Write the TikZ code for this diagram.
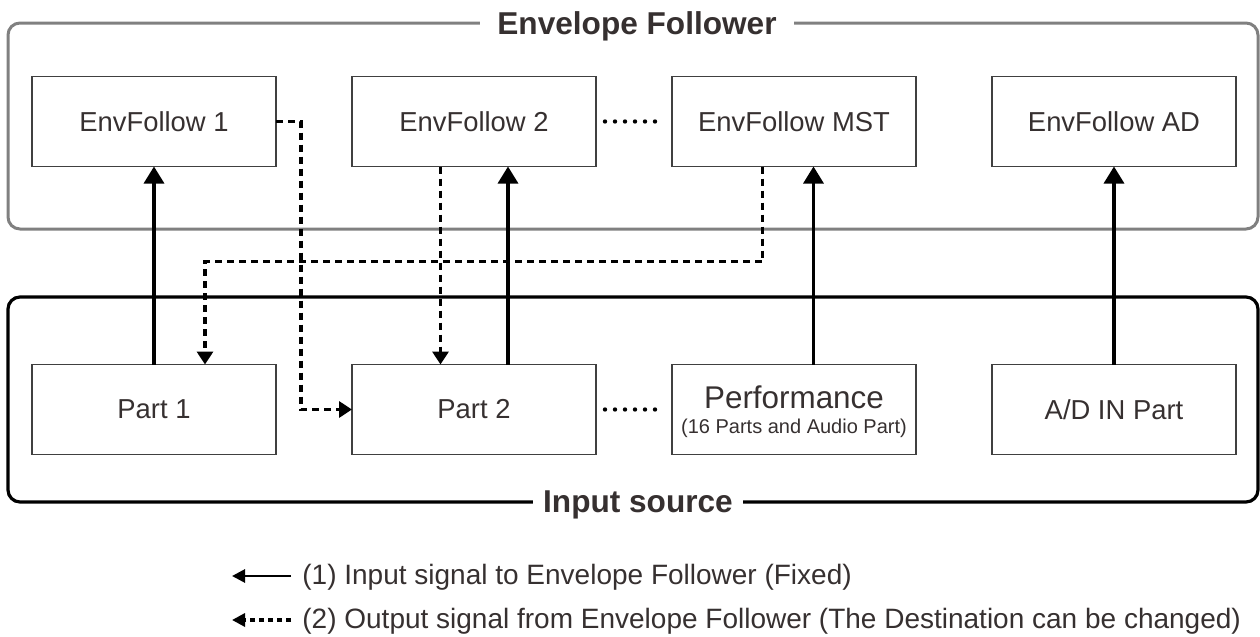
\documentclass[tikz,border=0pt]{standalone}
\usepackage{fontspec}
\setmainfont{Liberation Sans}
\usetikzlibrary{arrows.meta, positioning, calc}
\definecolor{grpgray}{HTML}{808080}
\definecolor{boxline}{HTML}{404040}
\definecolor{txt}{HTML}{363030}

\begin{document}
\begin{tikzpicture}[
  x=0.5pt, y=-0.5pt,
  node distance=99pt and 38pt,
  blk/.style={draw=boxline, line width=0.9pt, outer sep=0pt, align=center,
              minimum width=122pt, minimum height=45pt, text=txt,
              font=\fontsize{13.7}{16}\selectfont},
  grp/.style={draw, rounded corners=6pt, minimum width=625pt, outer sep=0pt},
  ttl/.style={fill=white, text=txt, inner ysep=1pt,
              font=\bfseries\fontsize{15.8}{18}\selectfont},
  inarr/.style={-{Triangle[width=10pt,length=8.5pt]}, line width=1.6pt},
  outarr/.style={-{Triangle[width=8pt,length=6.5pt]}, line width=1.8pt,
                 dash pattern=on 3.5pt off 2.5pt},
  dots/.style={line width=2.2pt, line cap=round, dash pattern=on 0pt off 5pt,
               shorten <=4.5pt, shorten >=4.5pt},
  legin/.style={-{Triangle[width=6.5pt,length=6.5pt]}, line width=1.4pt},
  legout/.style={-{Triangle[width=6.5pt,length=6.5pt]}, line width=1.6pt,
                 dash pattern=on 2.5pt off 2pt},
  leg/.style={anchor=west, inner sep=0pt, text=txt,
              font=\fontsize{14}{16}\selectfont}
]
  \useasboundingbox (0,0) rectangle (1260,637);

  % groups
  \node[grp, draw=grpgray, line width=1.5pt, minimum height=103pt] (envgrp) at (633,126) {};
  \node[grp, line width=1.6pt, minimum height=102.5pt] (srcgrp) at (633,399.5) {};
  \node[ttl, inner xsep=8.5pt] (envttl) at (637,26) {Envelope Follower};
  \node[ttl, inner xsep=5pt] (srcttl) at (638,505) {Input source};

  % envelope followers
  \node[blk] (ef1) at (154,121.5) {EnvFollow 1};
  \node[blk, right=of ef1] (ef2) {EnvFollow 2};
  \node[blk, right=of ef2] (efm) {EnvFollow MST};
  \node[blk, right=of efm] (efad) {EnvFollow AD};

  % input sources
  \node[blk, below=of ef1] (p1) {Part 1};
  \node[blk, below=of ef2] (p2) {Part 2};
  \node[blk, below=of efm, font=\fontsize{15.7}{12.5}\selectfont, text depth=0pt] (perf)
    {Performance\\{\fontsize{10}{12.5}\selectfont (16 Parts and Audio Part)}};
  \node[blk, below=of efad] (pad) {A/D IN Part};

  \draw[dots] (ef2) -- (efm);
  \draw[dots] (p2) -- (perf);

  % (1) fixed inputs
  \draw[inarr] (p1.north) -- (ef1.south);
  \draw[inarr] ([xshift=17pt]p2.north) -- ([xshift=17pt]ef2.south);
  \draw[inarr] ([xshift=9.75pt]perf.north) -- ([xshift=9.75pt]efm.south);
  \draw[inarr] (pad.north) -- (efad.south);

  % (2) outputs
  \draw[outarr] (ef1.east) -- ++(25,0) |- (p2.west);
  \draw[outarr] ([xshift=-16.75pt]ef2.south) -- ([xshift=-16.75pt]p2.north);
  \draw[outarr] ([xshift=-15.75pt]efm.south) -- ++(0,95) -| ([xshift=25.5pt]p1.north);

  % legend
  \coordinate (l1a) at (291,576);
  \coordinate (l1b) at (232,576);
  \coordinate (l2a) at (291,620);
  \coordinate (l2b) at (232,620);
  \draw[legin] (l1a) -- (l1b);
  \draw[legout] (l2a) -- (l2b);
  \node[leg] (l1t) at (302,577) {(1) Input signal to Envelope Follower (Fixed)};
  \node[leg] (l2t) at (302,621) {(2) Output signal from Envelope Follower (The Destination can be changed)};
\end{tikzpicture}
\end{document}
